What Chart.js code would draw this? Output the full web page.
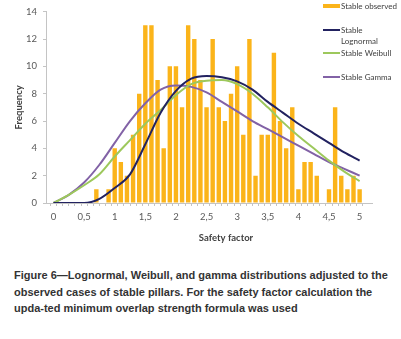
<!DOCTYPE html>
<html>
<head>
<meta charset="utf-8">
<script src="https://cdn.jsdelivr.net/npm/chart.js@4.4.1/dist/chart.umd.min.js"></script>
<style>
  body { margin: 0; background: #fff; width: 401px; height: 339px; overflow: hidden; }
  #wrap { position: relative; width: 401px; height: 250px; }
  .caption {
    margin: 17px 0 0 14px;
    font-family: "Liberation Sans", Arial, sans-serif;
    font-weight: bold;
    font-size: 11px;
    line-height: 16.5px;
    color: #333;
    white-space: nowrap;
  }
</style>
</head>
<body>
<div id="wrap"><canvas id="chart" width="401" height="250"></canvas></div>
<div class="caption">Figure 6—Lognormal, Weibull, and gamma distributions adjusted to the<br>observed cases of stable pillars. For the safety factor calculation the<br>upda-ted minimum overlap strength formula was used</div>
<script>
// safety factor classes (0.1 wide) and observed stable cases
const safetyFactor = [0, 0.1, 0.2, 0.3, 0.4, 0.5, 0.6, 0.7, 0.8, 0.9,
  1, 1.1, 1.2, 1.3, 1.4, 1.5, 1.6, 1.7, 1.8, 1.9,
  2, 2.1, 2.2, 2.3, 2.4, 2.5, 2.6, 2.7, 2.8, 2.9,
  3, 3.1, 3.2, 3.3, 3.4, 3.5, 3.6, 3.7, 3.8, 3.9,
  4, 4.1, 4.2, 4.3, 4.4, 4.5, 4.6, 4.7, 4.8, 4.9, 5];
const observed = [0, 0, 0, 0, 0, 0, 0, 1, 0, 1,
  4, 3, 2, 5, 8, 13, 13, 9, 4, 10,
  10, 7, 13, 12, 9, 7, 12, 7, 6, 8,
  10, 5, 12, 2, 5, 5, 11, 6, 4, 7,
  1, 3, 3, 2, 0, 1, 7, 2, 1, 2, 1];

// fitted curves
const curveX = [0, 0.25, 0.5, 0.75, 1, 1.25, 1.5, 1.75, 2, 2.25, 2.5,
  2.75, 3, 3.25, 3.5, 3.75, 4, 4.25, 4.5, 4.75, 5];
const lognormal = [0, 0, 0, 0.3, 1.1, 2.1, 4.3, 6.6, 8.2, 9.1, 9.3,
  9.2, 8.9, 8.3, 7.4, 6.6, 5.8, 5.1, 4.4, 3.7, 3.1];
const weibull = [0, 0.6, 1.3, 2.1, 3.4, 4.6, 5.8, 6.8, 7.9, 8.7, 8.95,
  9.0, 8.7, 8.0, 7.0, 5.9, 4.9, 4.0, 3.1, 2.3, 1.6];
const gamma = [0, 0.6, 1.5, 2.8, 4.4, 6.0, 7.3, 8.3, 8.6, 8.5, 8.1,
  7.4, 6.7, 6.0, 5.4, 4.8, 4.2, 3.6, 3.0, 2.5, 2.0];

const yTicks = [0, 2, 4, 6, 8, 10, 12, 14];

const barColor = '#FBB41A';
const navy = '#222260';
const green = '#9DC85C';
const purple = '#8262A6';
const axisColor = '#c4c4c4';
const textColor = '#595959';

const pts = (xs, ys) => xs.map((x, i) => ({ x: x, y: ys[i] }));

const lineSet = (label, values, color) => ({
  type: 'line',
  label: label,
  data: pts(curveX, values),
  borderColor: color,
  borderWidth: 2,
  pointRadius: 0,
  cubicInterpolationMode: 'monotone',
  fill: false,
  order: 1,
});

// legend and x title are drawn by hand, Excel-style overlay on the plot
const extras = {
  id: 'extras',
  afterDraw(chart) {
    const ctx = chart.ctx;
    ctx.save();
    ctx.font = '8px Lato';
    ctx.fillStyle = '#404040';
    ctx.textBaseline = 'middle';
    ctx.textAlign = 'left';

    ctx.fillStyle = barColor;
    ctx.fillRect(323, 4, 17, 4);
    ctx.fillStyle = '#404040';
    ctx.fillText('Stable observed', 341, 6.5);

    const items = [
      [navy, 30, ['Stable', 'Lognormal']],
      [green, 53, ['Stable Weibull']],
      [purple, 77, ['Stable Gamma']],
    ];
    items.forEach(([c, y, lines]) => {
      ctx.strokeStyle = c;
      ctx.lineWidth = 2;
      ctx.beginPath();
      ctx.moveTo(323, y);
      ctx.lineTo(340, y);
      ctx.stroke();
      lines.forEach((t, i) => ctx.fillText(t, 341, y + 0.5 + i * 10.5));
    });

    ctx.font = 'bold 9.5px Lato';
    ctx.fillStyle = '#404040';
    ctx.textAlign = 'center';
    ctx.fillText('Safety factor', 226, 238);
    ctx.restore();
  }
};

new Chart(document.getElementById('chart').getContext('2d'), {
  type: 'bar',
  data: {
    datasets: [
      lineSet('Stable Lognormal', lognormal, navy),
      lineSet('Stable Weibull', weibull, green),
      lineSet('Stable Gamma', gamma, purple),
      {
        type: 'bar',
        label: 'Stable observed',
        data: pts(safetyFactor, observed),
        backgroundColor: barColor,
        barPercentage: 0.72,
        categoryPercentage: 1,
        order: 2,
      },
    ],
  },
  options: {
    responsive: false,
    animation: false,
    layout: { padding: { left: 12, right: 29, top: 9, bottom: 0 } },
    plugins: {
      legend: { display: false },
      tooltip: { enabled: false },
    },
    scales: {
      x: {
        type: 'linear',
        min: -0.07,
        max: 5.15,
        afterFit(scale) { scale.height = 47; },
        afterBuildTicks(scale) { scale.ticks = safetyFactor.map(v => ({ value: v })); },
        border: { color: axisColor, width: 1 },
        grid: { drawOnChartArea: false, drawTicks: true, tickLength: 3, color: axisColor },
        ticks: {
          autoSkip: false,
          maxRotation: 0,
          padding: 5,
          color: textColor,
          font: { family: 'Lato', size: 9.5 },
          callback(v) {
            const h = Math.round(v * 2);
            if (Math.abs(v * 2 - h) > 1e-6) return '';
            return String(h / 2).replace('.', ',');
          },
        },
      },
      y: {
        min: 0,
        max: 14,
        afterFit(scale) { scale.width = 34; },
        afterBuildTicks(scale) { scale.ticks = yTicks.map(v => ({ value: v })); },
        border: { color: axisColor, width: 1 },
        grid: { drawOnChartArea: false, drawTicks: true, tickLength: 3, color: axisColor },
        ticks: {
          padding: 6,
          color: textColor,
          font: { family: 'Lato', size: 9.5 },
        },
        title: {
          display: true,
          text: 'Frequency',
          color: '#404040',
          padding: { top: 1, bottom: 0 },
          font: { family: 'Lato', size: 9.5, weight: 'bold' },
        },
      },
    },
  },
  plugins: [extras],
});
</script>
</body>
</html>
